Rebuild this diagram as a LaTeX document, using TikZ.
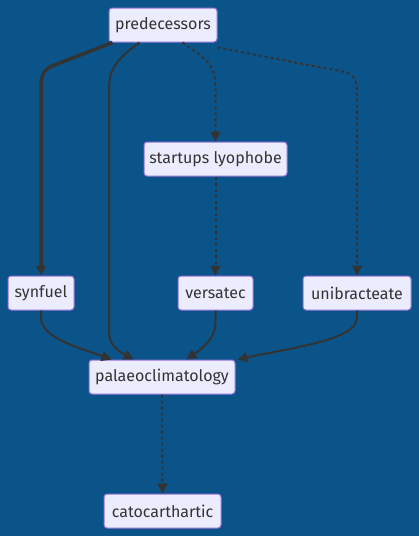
\documentclass[tikz,border=0pt]{standalone}
\usepackage{fontspec}
\setmainfont{Fira Sans}
\usetikzlibrary{arrows.meta}
\definecolor{bg}{RGB}{11,84,137}
\definecolor{nodefill}{HTML}{ECECFF}
\definecolor{nodeline}{HTML}{9370DB}
\definecolor{edge}{HTML}{333333}
\tikzset{
  box/.style={draw=nodeline, fill=nodefill, line width=1pt, rounded corners=3pt,
    text=edge, font=\fontsize{16}{19}\selectfont, inner sep=0pt,
    minimum height=34pt, anchor=center},
  conn/.style={draw=edge, line width=2pt, -{Triangle[length=10pt,width=10pt]}},
  thickconn/.style={conn, line width=3.5pt},
  dotconn/.style={conn, dash pattern=on 3pt off 3pt},
}
\begin{document}
\begin{tikzpicture}[x=1pt,y=-1pt]
\fill[bg] (0,0) rectangle (419,536);
\useasboundingbox (0,0) rectangle (419,536);
\node[box, minimum width=108pt] (pred) at (163,25) {predecessors};
\node[box, minimum width=143pt] (start) at (215.5,159) {startups lyophobe};
\node[box, minimum width=66pt] (syn) at (41,293) {synfuel};
\node[box, minimum width=75pt] (vers) at (215.5,293) {versatec};
\node[box, minimum width=108pt] (uni) at (357,293) {unibracteate};
\node[box, minimum width=146pt] (pal) at (162,377) {palaeoclimatology};
\node[box, minimum width=117pt] (cato) at (162.5,511) {catocarthartic};

\draw[thickconn] ([xshift=4pt]pred.south west) -- (52,66) .. controls (43,70) and (41,76) .. (41,88) -- (syn.north);
\draw[conn] ([xshift=31pt]pred.south west) .. controls (115,60) and (109,70) .. (109,90) -- (109,332) .. controls (109,346) and (120,352) .. ([xshift=45pt]pal.north west);
\draw[dotconn] ([xshift=74pt]pred.south west) .. controls (205,58) and (215.5,65) .. (215.5,85) -- (start.north);
\draw[dotconn] ([yshift=-5pt]pred.south east) -- (345,72) .. controls (355,76) and (357,80) .. (357,92) -- (uni.north);
\draw[dotconn] (start.south) -- (vers.north);
\draw[conn] (syn.south) -- (41,318) .. controls (41,338) and (80,348) .. ([xshift=23pt]pal.north west);
\draw[conn] (vers.south) -- (215.5,322) .. controls (215.5,340) and (200,350) .. ([xshift=98pt]pal.north west);
\draw[conn] (uni.south) -- (357,318) .. controls (357,340) and (290,348) .. ([xshift=2pt]pal.north east);
\draw[dotconn] (pal.south) -- (cato.north);
\end{tikzpicture}
\end{document}
